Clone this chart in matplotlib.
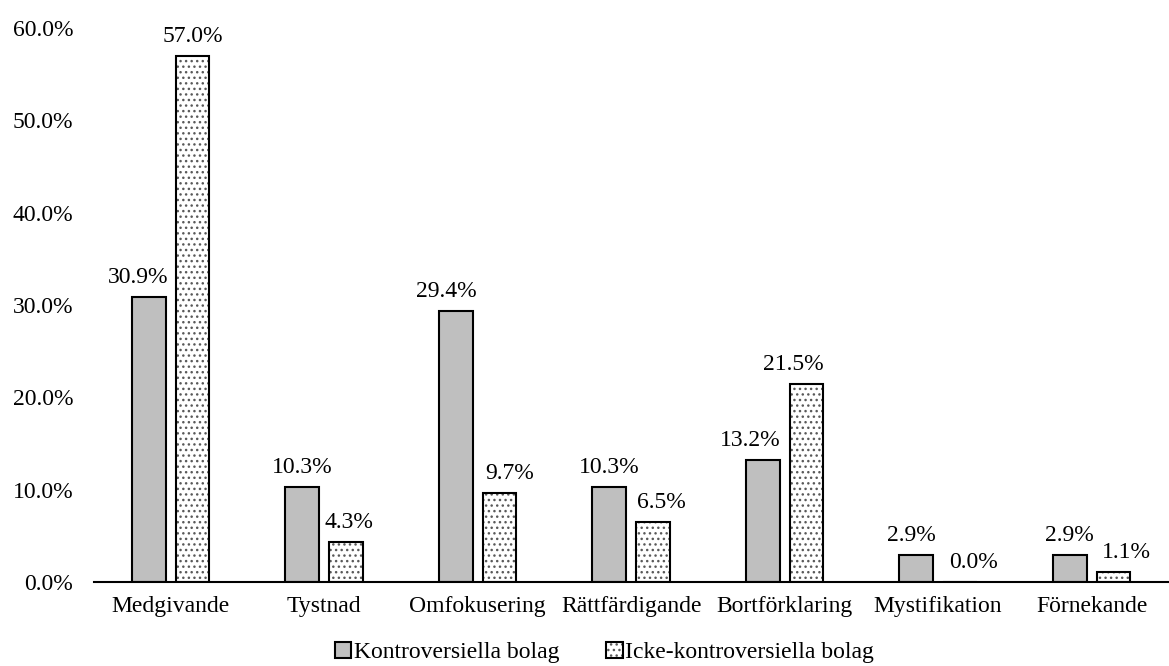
import numpy as np
import matplotlib.pyplot as plt
from matplotlib.ticker import FuncFormatter

plt.rcParams['font.family'] = ['Liberation Serif', 'DejaVu Serif']
plt.rcParams['hatch.linewidth'] = 1.0

categories = ['Medgivande', 'Tystnad', 'Omfokusering', 'Rättfärdigande',
              'Bortförklaring', 'Mystifikation', 'Förnekande']
kontroversiella = [30.9, 10.3, 29.4, 10.3, 13.2, 2.9, 2.9]
icke_kontroversiella = [57.0, 4.3, 9.7, 6.5, 21.5, 0.0, 1.1]
series_names = ['Kontroversiella bolag', 'Icke-kontroversiella bolag']

# sideways nudges (pixels) for value labels so they clear neighbouring bars
nudge_k = [-11, 0, -9, 0, -13, -5, 0]
nudge_i = [0, 3, 10, 8, -13, 14, 13]

FS = 17

fig = plt.figure(figsize=(11.69, 6.66), dpi=100)
ax = fig.add_axes([0.0804, 0.126, 0.919, 0.832])

x = np.arange(len(categories))
w = 0.22
off = 0.1425

b1 = ax.bar(x - off, kontroversiella, w, color='#bfbfbf', edgecolor='black',
            linewidth=1.5, label=series_names[0])
b2 = ax.bar(x + off, icke_kontroversiella, w, color='white', edgecolor='black',
            linewidth=1.5, hatch='...', label=series_names[1])
for bars in (b1, b2):
    for bar in bars:
        bar._hatch_color = (0.35, 0.35, 0.35, 1.0)

for bars, vals, nudges in ((b1, kontroversiella, nudge_k),
                           (b2, icke_kontroversiella, nudge_i)):
    for bar, v, dx in zip(bars, vals, nudges):
        ax.annotate(f'{v:.1f}%', (bar.get_x() + bar.get_width() / 2, v),
                    xytext=(dx, 9), textcoords='offset pixels',
                    ha='center', va='bottom', fontsize=FS)

ax.set_xlim(-0.5, len(categories) - 0.5)
ax.set_ylim(0, 60)
ax.set_yticks(np.arange(0, 61, 10))
ax.yaxis.set_major_formatter(FuncFormatter(lambda v, p: f'{v:.1f}%'))
ax.set_xticks(x)
ax.set_xticklabels(categories)
ax.tick_params(axis='both', length=0, labelsize=FS)
ax.tick_params(axis='y', pad=15)
ax.tick_params(axis='x', pad=10)

for s in ('top', 'right', 'left'):
    ax.spines[s].set_visible(False)
ax.spines['bottom'].set_linewidth(1.5)

fig.legend(handles=[b1, b2], loc='center', bbox_to_anchor=(0.517, 0.02),
           ncol=2, frameon=False, fontsize=FS, handlelength=0.7,
           handleheight=0.7, handletextpad=0.1, columnspacing=2.0)

fig.savefig('out.png', dpi=100)
